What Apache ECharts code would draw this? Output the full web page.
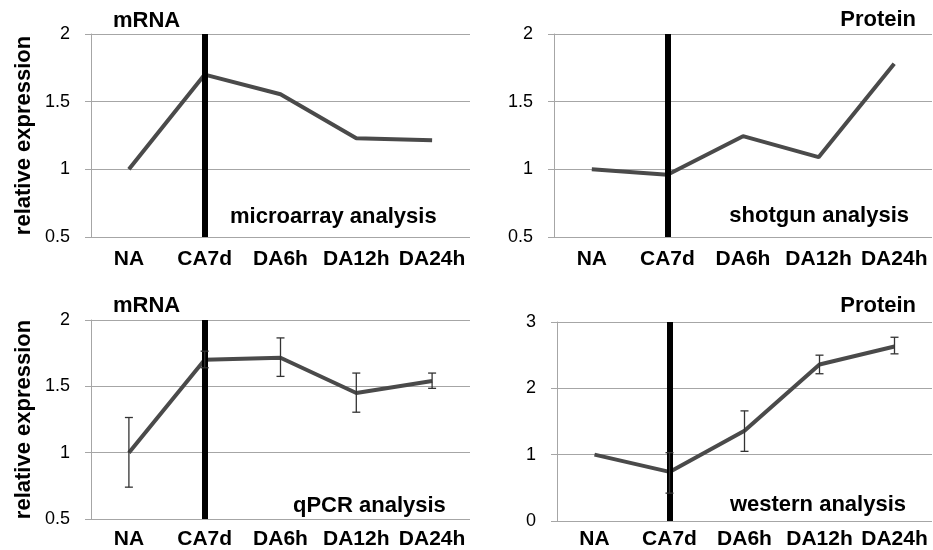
<!DOCTYPE html>
<html>
<head>
<meta charset="utf-8">
<script src="https://cdn.jsdelivr.net/npm/echarts@6/dist/echarts.min.js"></script>
<style>html,body{margin:0;padding:0;background:#fff;}#c{width:933px;height:550px;}</style>
</head>
<body>
<div id="c"></div>
<script>
var categories = ['NA', 'CA7d', 'DA6h', 'DA12h', 'DA24h'];
var microarray = [1.0, 1.70, 1.555, 1.23, 1.215];
var shotgun = [1.0, 0.96, 1.245, 1.09, 1.78];
var qpcr = [1.0, 1.70, 1.715, 1.45, 1.54];
var qpcrLow = [0.74, 1.64, 1.575, 1.305, 1.485];
var qpcrHigh = [1.265, 1.765, 1.865, 1.60, 1.60];
var western = [1.0, 0.74, 1.36, 2.36, 2.63];
var westernLow = [null, 0.42, 1.05, 2.22, 2.52];
var westernHigh = [null, 1.03, 1.66, 2.50, 2.77];
var markerCategory = 'CA7d';

var FONT = '"Liberation Sans", Arial, sans-serif';
var LINE = '#4a4a4a';
var GRIDC = '#a6a6a6';

function errData(low, high) {
  var out = [];
  for (var i = 0; i < low.length; i++) {
    if (low[i] != null) out.push([i, low[i], high[i]]);
  }
  return out;
}

function renderErr(params, api) {
  var x = api.value(0);
  var lo = api.coord([x, api.value(1)]);
  var hi = api.coord([x, api.value(2)]);
  var c = 4;
  var st = { stroke: '#333', lineWidth: 1.3 };
  return {
    type: 'group',
    children: [
      { type: 'line', shape: { x1: lo[0], y1: lo[1], x2: hi[0], y2: hi[1] }, style: st },
      { type: 'line', shape: { x1: lo[0] - c, y1: lo[1], x2: lo[0] + c, y2: lo[1] }, style: st },
      { type: 'line', shape: { x1: hi[0] - c, y1: hi[1], x2: hi[0] + c, y2: hi[1] }, style: st }
    ]
  };
}

var grids = [
  { left: 91, right: 463, top: 34, height: 203 },
  { left: 554, right: 1, top: 34, height: 203 },
  { left: 91, right: 463, top: 320, height: 202 },
  { left: 557, right: 1, top: 322, height: 203 }
];

function xAx(i, margin) {
  return {
    type: 'category', gridIndex: i, data: categories, boundaryGap: true,
    axisLine: { show: false }, axisTick: { show: false },
    axisLabel: { interval: 0, hideOverlap: false, margin: margin, fontFamily: FONT, fontWeight: 'bold', fontSize: 21, color: '#000' }
  };
}
function yAx(i, min, max, interval, name) {
  return {
    type: 'value', gridIndex: i, min: min, max: max, interval: interval,
    name: name || '', nameLocation: 'middle', nameGap: 56,
    nameTextStyle: { fontFamily: FONT, fontWeight: 'bold', fontSize: 22, color: '#000' },
    axisLine: { show: true, lineStyle: { color: GRIDC, width: 1 } },
    axisTick: { show: true, length: 6, lineStyle: { color: GRIDC } },
    axisLabel: { margin: 21, fontFamily: FONT, fontSize: 18, color: '#000' },
    splitLine: { show: true, lineStyle: { color: GRIDC, width: 1 } }
  };
}

var markLine = {
  silent: true, symbol: ['none', 'none'], animation: false,
  label: { show: false },
  lineStyle: { color: '#000', width: 6, type: 'solid' },
  emphasis: { disabled: true },
  data: [{ xAxis: markerCategory }]
};

function lineSeries(i, data) {
  return {
    type: 'line', xAxisIndex: i, yAxisIndex: i, data: data,
    showSymbol: false, symbol: 'none', animation: false, silent: true,
    lineStyle: { color: LINE, width: 4 },
    markLine: markLine
  };
}
function errSeries(i, data) {
  return {
    type: 'custom', xAxisIndex: i, yAxisIndex: i, data: data,
    renderItem: renderErr, z: 6, animation: false, silent: true
  };
}

function txt(x, y, s, align) {
  return {
    type: 'text', x: x, y: y, silent: true,
    style: { text: s, fill: '#000', font: 'bold 22px ' + FONT, align: align || 'left', verticalAlign: 'middle' }
  };
}

var option = {
  backgroundColor: '#fff',
  animation: false,
  grid: grids,
  xAxis: [xAx(0, 12), xAx(1, 12), xAx(2, 10), xAx(3, 8)],
  yAxis: [
    yAx(0, 0.5, 2, 0.5, 'relative expression'),
    yAx(1, 0.5, 2, 0.5),
    yAx(2, 0.5, 2, 0.5, 'relative expression'),
    yAx(3, 0, 3, 1)
  ],
  series: [
    lineSeries(0, microarray),
    lineSeries(1, shotgun),
    lineSeries(2, qpcr),
    lineSeries(3, western),
    errSeries(2, errData(qpcrLow, qpcrHigh)),
    errSeries(3, errData(westernLow, westernHigh))
  ],
  graphic: [
    txt(113, 21, 'mRNA'),
    txt(230, 217, 'microarray analysis'),
    txt(916, 20, 'Protein', 'right'),
    txt(909, 216, 'shotgun analysis', 'right'),
    txt(113, 306, 'mRNA'),
    txt(293, 506, 'qPCR analysis'),
    txt(916, 306, 'Protein', 'right'),
    txt(906, 505, 'western analysis', 'right')
  ]
};

var chart = echarts.init(document.getElementById('c'), null, { renderer: 'canvas' });
chart.setOption(option);
</script>
</body>
</html>
